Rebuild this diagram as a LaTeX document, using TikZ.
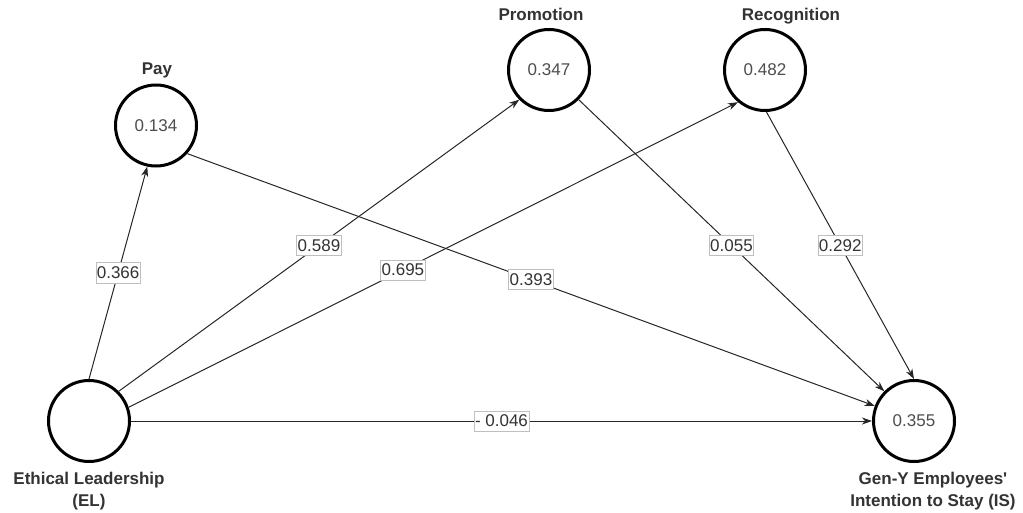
\documentclass[tikz,border=0pt]{standalone}
\usepackage{fontspec}
\setmainfont{Liberation Sans}[Ligatures=TeXOff]
\usetikzlibrary{arrows.meta}
\definecolor{txtgray}{HTML}{333333}
\definecolor{valgray}{HTML}{4D4D4D}
\definecolor{boxgray}{HTML}{BFBFBF}
\begin{document}
\begin{tikzpicture}[x=1pt,y=-1pt,lv/.style={draw,line width=3pt,circle,minimum
					size=81pt,inner sep=0pt,text=valgray,font=\fontsize{17}{22}\selectfont},nm/.style={text=txtgray,inner
					sep=0pt,align=center,font=\fontsize{17}{22}\selectfont\bfseries},pc/.style={fill=white,draw=boxgray,line
					width=0.6pt,inner xsep=1pt,inner ysep=4pt,text=txtgray,font=\fontsize{17}{22}\selectfont,pos=0.5},ar/.style={-{Stealth[length=10pt,width=7pt,inset=3pt]},line
					width=1pt,draw=black!85}]
		\useasboundingbox (0,0) rectangle (1023,513);
		\node[lv] (el) at (89,421) {};
		\node[lv] (pay) at (156,125.5) {0.134};
		\node[lv] (prom) at (549,70) {0.347};
		\node[lv] (rec) at (765,70) {0.482};
		\node[lv] (is) at (914,421) {0.355};
		\node[nm,anchor=base] (payn) at (157,75) {Pay};
		\node[nm,anchor=base] (promn) at (541,21) {Promotion};
		\node[nm,anchor=base] (recn) at (791,21) {Recognition};
		\node[nm,anchor=north] (eln) at (89,472) {Ethical Leadership\\(EL)};
		\node[nm,anchor=north] (isn) at (933,472) {Gen-Y Employees'\\Intention to Stay (IS)};
		\draw[ar] (el.90) -- node[pc]{0.366} (pay.-102);
		\draw[ar] (el.45) -- node[pc]{0.589} (prom.-135);
		\draw[ar] (el.19) -- node[pc,pos=0.45]{0.695} (rec.-130);
		\draw[ar] (el.0) -- node[pc]{- 0.046} (is.180);
		\draw[ar] (pay.-42) -- node[pc]{0.393} (is.159);
		\draw[ar] (prom.-45) -- node[pc]{0.055} (is.135);
		\draw[ar] (rec.-88) -- node[pc]{0.292} (is.90);
	\end{tikzpicture}
\end{document}
